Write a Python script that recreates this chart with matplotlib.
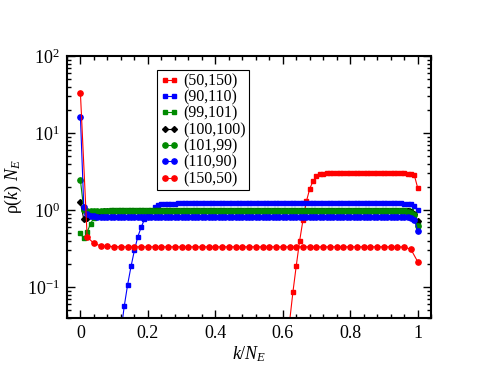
import numpy as np
import matplotlib
matplotlib.use("Agg")
import matplotlib.pyplot as plt
from matplotlib.ticker import MultipleLocator, LogLocator, NullFormatter

plt.rcParams['font.family'] = ['Liberation Serif', 'DejaVu Serif']
plt.rcParams['mathtext.fontset'] = 'custom'
plt.rcParams['mathtext.rm'] = 'Liberation Serif'
plt.rcParams['mathtext.it'] = 'Liberation Serif:italic'

# k/N_E grids
x_fine = np.round(np.arange(101) * 0.01, 2)
x_coarse = np.round(np.arange(51) * 0.02, 2)

# (50,150)  red squares
red_sq = [0, 0, 0, 0, 0, 0, 0, 0, 0, 0,
          0, 0, 0, 0, 0, 0, 0, 0, 0, 0,
          0, 0, 0, 0, 0, 0, 0, 0, 0, 0,
          0, 0, 0, 0, 0, 0, 0, 0, 0, 0,
          0, 0, 0, 0, 0, 0, 0, 0, 0, 0,
          0, 0, 0, 0, 0, 0, 0, 0, 0, 0,
          0.005, 0.012, 0.035, 0.086, 0.19, 0.40, 0.75, 1.30, 1.90, 2.40,
          2.75, 2.92, 2.98, 3.00, 3.01, 3.01, 3.02, 3.02, 3.02, 3.02,
          3.02, 3.02, 3.02, 3.02, 3.02, 3.02, 3.01, 3.01, 3.01, 3.01,
          3.01, 3.01, 3.00, 3.00, 3.00, 3.00, 3.00, 2.99, 2.97, 2.85,
          1.95]
# (90,110)  blue squares
blue_sq = [0, 0, 0, 0, 0, 0, 0, 0, 0, 0,
           0.003, 0.009, 0.026, 0.057, 0.108, 0.186, 0.30, 0.45, 0.60, 0.76,
           0.87, 0.99, 1.10, 1.16, 1.19, 1.21, 1.22, 1.22, 1.22, 1.23,
           1.23, 1.23, 1.23, 1.23, 1.23, 1.23, 1.23, 1.23, 1.23, 1.23,
           1.23, 1.23, 1.23, 1.23, 1.23, 1.23, 1.23, 1.23, 1.23, 1.23,
           1.23, 1.23, 1.23, 1.23, 1.23, 1.23, 1.23, 1.23, 1.23, 1.23,
           1.23, 1.23, 1.23, 1.23, 1.23, 1.23, 1.23, 1.23, 1.23, 1.23,
           1.23, 1.23, 1.23, 1.23, 1.23, 1.23, 1.23, 1.23, 1.23, 1.23,
           1.23, 1.23, 1.23, 1.23, 1.23, 1.23, 1.23, 1.23, 1.23, 1.23,
           1.23, 1.23, 1.23, 1.23, 1.23, 1.23, 1.22, 1.22, 1.21, 1.12,
           1.00]
# (99,101)  green squares
green_sq = [0.50, 0.43, 0.52, 0.67, 0.79, 0.88, 0.94, 0.97, 0.99, 1.00,
            1.01, 1.01, 1.01, 1.02, 1.02, 1.02, 1.02, 1.02, 1.02, 1.02,
            1.02, 1.02, 1.02, 1.02, 1.02, 1.02, 1.02, 1.02, 1.02, 1.02,
            1.02, 1.02, 1.02, 1.02, 1.02, 1.02, 1.02, 1.02, 1.02, 1.02,
            1.02, 1.02, 1.02, 1.02, 1.02, 1.02, 1.02, 1.02, 1.02, 1.02,
            1.02, 1.02, 1.02, 1.02, 1.02, 1.02, 1.02, 1.02, 1.02, 1.02,
            1.02, 1.02, 1.02, 1.02, 1.02, 1.02, 1.02, 1.02, 1.02, 1.02,
            1.02, 1.02, 1.02, 1.02, 1.02, 1.02, 1.02, 1.02, 1.02, 1.02,
            1.02, 1.02, 1.02, 1.02, 1.02, 1.02, 1.02, 1.02, 1.02, 1.02,
            1.02, 1.02, 1.02, 1.02, 1.02, 1.02, 1.02, 1.01, 0.97, 0.88,
            0.66]
# (100,100)  black diamonds
black_d = [1.26, 0.76, 0.80, 0.87, 0.91, 0.94, 0.96, 0.97, 0.98, 0.98,
           0.99, 0.99, 0.99, 0.99, 0.99, 0.99, 0.99, 0.99, 0.99, 0.99,
           0.99, 0.99, 0.99, 0.99, 0.99, 0.99, 0.99, 0.99, 0.99, 0.99,
           0.99, 0.99, 0.99, 0.99, 0.99, 0.99, 0.99, 0.99, 0.99, 0.99,
           0.99, 0.99, 0.99, 0.99, 0.99, 0.99, 0.99, 0.99, 0.99, 0.99,
           0.99, 0.99, 0.99, 0.99, 0.99, 0.99, 0.99, 0.99, 0.99, 0.99,
           0.99, 0.99, 0.99, 0.99, 0.99, 0.99, 0.99, 0.99, 0.99, 0.99,
           0.99, 0.99, 0.99, 0.99, 0.99, 0.99, 0.99, 0.99, 0.99, 0.99,
           0.99, 0.99, 0.99, 0.99, 0.99, 0.99, 0.99, 0.99, 0.99, 0.99,
           0.99, 0.99, 0.99, 0.99, 0.99, 0.99, 0.99, 0.98, 0.95, 0.88,
           0.72]
# (101,99)  green circles
green_ci = [2.44, 1.02, 0.98, 0.97, 0.97, 0.97, 0.97, 0.97, 0.97, 0.97,
            0.97, 0.97, 0.97, 0.97, 0.97, 0.97, 0.97, 0.97, 0.97, 0.97,
            0.97, 0.97, 0.97, 0.97, 0.97, 0.97, 0.97, 0.97, 0.97, 0.97,
            0.97, 0.97, 0.97, 0.97, 0.97, 0.97, 0.97, 0.97, 0.97, 0.97,
            0.97, 0.97, 0.97, 0.97, 0.97, 0.97, 0.97, 0.97, 0.97, 0.97,
            0.97, 0.97, 0.97, 0.97, 0.97, 0.97, 0.97, 0.97, 0.97, 0.97,
            0.97, 0.97, 0.97, 0.97, 0.97, 0.97, 0.97, 0.97, 0.97, 0.97,
            0.97, 0.97, 0.97, 0.97, 0.97, 0.97, 0.97, 0.97, 0.97, 0.97,
            0.97, 0.97, 0.97, 0.97, 0.97, 0.97, 0.97, 0.97, 0.97, 0.97,
            0.97, 0.97, 0.97, 0.97, 0.97, 0.97, 0.97, 0.96, 0.93, 0.86,
            0.62]
# (110,90)  blue circles
blue_ci = [16.3, 1.10, 0.88, 0.84, 0.83, 0.82, 0.82, 0.82, 0.82, 0.82,
           0.82, 0.82, 0.82, 0.82, 0.82, 0.82, 0.82, 0.82, 0.82, 0.82,
           0.82, 0.82, 0.82, 0.82, 0.82, 0.82, 0.82, 0.82, 0.82, 0.82,
           0.82, 0.82, 0.82, 0.82, 0.82, 0.82, 0.82, 0.82, 0.82, 0.82,
           0.82, 0.82, 0.82, 0.82, 0.82, 0.82, 0.82, 0.82, 0.82, 0.82,
           0.82, 0.82, 0.82, 0.82, 0.82, 0.82, 0.82, 0.82, 0.82, 0.82,
           0.82, 0.82, 0.82, 0.82, 0.82, 0.82, 0.82, 0.82, 0.82, 0.82,
           0.82, 0.82, 0.82, 0.82, 0.82, 0.82, 0.82, 0.82, 0.82, 0.82,
           0.82, 0.82, 0.82, 0.82, 0.82, 0.82, 0.82, 0.82, 0.82, 0.82,
           0.82, 0.82, 0.82, 0.82, 0.82, 0.82, 0.82, 0.82, 0.80, 0.75,
           0.54]
# (150,50)  red circles (coarser grid)
red_ci = [33.0, 0.45, 0.37, 0.345, 0.34, 0.337, 0.335, 0.335, 0.335, 0.335,
          0.335, 0.335, 0.335, 0.335, 0.335, 0.335, 0.335, 0.335, 0.335, 0.335,
          0.335, 0.335, 0.335, 0.335, 0.335, 0.335, 0.335, 0.335, 0.335, 0.335,
          0.335, 0.335, 0.335, 0.335, 0.335, 0.335, 0.335, 0.335, 0.335, 0.335,
          0.335, 0.335, 0.335, 0.335, 0.335, 0.335, 0.335, 0.335, 0.333, 0.31,
          0.215]

series = [
    ("(50,150)", x_fine, red_sq, "red", "s"),
    ("(90,110)", x_fine, blue_sq, "blue", "s"),
    ("(99,101)", x_fine, green_sq, "#008a00", "s"),
    ("(100,100)", x_fine, black_d, "black", "D"),
    ("(101,99)", x_fine, green_ci, "#008a00", "o"),
    ("(110,90)", x_fine, blue_ci, "blue", "o"),
    ("(150,50)", x_coarse, red_ci, "red", "o"),
]

fig = plt.figure(figsize=(4.85, 3.74), dpi=100)
ax = fig.add_axes([0.138, 0.150, 0.751, 0.700])

for lab, xx, yy, c, m in series:
    ms = 3.2 if m != "o" else 3.8
    if m == "D":
        ms = 3.0
    ax.plot(xx, yy, color=c, lw=0.8, marker=m, ms=ms, mec=c, mfc=c,
            label=lab)

ax.set_yscale("log")
ax.set_xlim(-0.04, 1.04)
ax.set_ylim(0.04, 100)

ax.xaxis.set_minor_locator(MultipleLocator(0.04))
ax.set_xticks([0, 0.2, 0.4, 0.6, 0.8, 1.0])
ax.set_xticklabels(["0", "0.2", "0.4", "0.6", "0.8", "1"])
ax.yaxis.set_minor_locator(LogLocator(base=10, subs=np.arange(2, 10)))
ax.yaxis.set_minor_formatter(NullFormatter())

ax.tick_params(which="both", direction="in", top=True, right=True,
               labelsize=13, width=1)
ax.tick_params(which="major", length=6, pad=5)
ax.tick_params(which="minor", length=3)
for s in ax.spines.values():
    s.set_linewidth(1.5)

ax.set_xlabel("$k/N_E$", fontsize=13, labelpad=2)
ax.set_ylabel("ρ($k$) $N_E$", fontsize=13, labelpad=2)

leg = ax.legend(loc="upper left", bbox_to_anchor=(0.247, 0.947),
                borderaxespad=0, fontsize=11.4, numpoints=2,
                handlelength=1.15, handletextpad=0.3, labelspacing=0.02,
                fancybox=False, framealpha=1, edgecolor="black",
                borderpad=0.2)
leg.get_frame().set_linewidth(0.8)

fig.savefig("out.png", dpi=100)
